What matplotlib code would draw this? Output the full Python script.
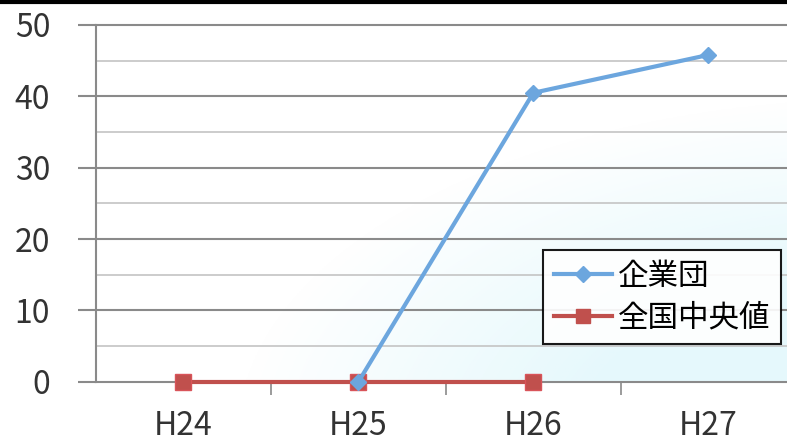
import numpy as np
import matplotlib
matplotlib.use("Agg")
from matplotlib import pyplot as plt
from matplotlib.lines import Line2D

plt.rcParams['font.family'] = ['Noto Sans CJK JP', 'DejaVu Sans']

# data
years = ['H24', 'H25', 'H26', 'H27']
kigyodan_x = [1, 2, 3]
kigyodan = [0, 40.5, 45.8]
zenkoku_x = [0, 1, 2]
zenkoku = [0, 0, 0]

blue = '#6CA6DE'
red = '#C0504D'

fig = plt.figure(figsize=(7.87, 4.43), dpi=100)
ax = fig.add_axes([0.122, 0.138, 0.878, 0.8056])

# light cyan wash in the lower right, like the original background
gx, gy = np.meshgrid(np.linspace(0, 1, 300), np.linspace(0, 1, 200))
d = np.sqrt((gx - 1.15) ** 2 + (gy + 0.15) ** 2)
a = np.clip((0.95 - d) / 0.5, 0, 1) * 0.5
img = np.zeros((200, 300, 4))
img[..., 0] = 0.80
img[..., 1] = 0.95
img[..., 2] = 0.98
img[..., 3] = a
ax.imshow(img, extent=[-0.5, 3.45, 0, 50], origin='lower', aspect='auto', zorder=0)

# grid
for v in np.arange(5, 50, 10):
    ax.axhline(v, color='#c4c4c4', lw=1.2, zorder=1)
for v in np.arange(0, 51, 10):
    ax.axhline(v, color='#8a8a8a', lw=1.5, zorder=1, clip_on=False)

ax.plot(zenkoku_x, zenkoku, color=red, lw=3, marker='s', ms=11,
        mfc=red, mec='#d9545a', zorder=3, clip_on=False)
ax.plot(kigyodan_x, kigyodan, color=blue, lw=3, marker='D', ms=8,
        mfc=blue, mec=blue, zorder=4, clip_on=False)

ax.set_xlim(-0.5, 3.45)
ax.set_ylim(0, 50)
ax.set_xticks(range(len(years)))
ax.set_xticklabels(years)
ax.set_xticks([0.5, 1.5, 2.5], minor=True)
ax.set_yticks(np.arange(0, 51, 10))
ax.tick_params(axis='x', which='major', length=0, pad=20, labelsize=23, labelcolor='#333333')
ax.tick_params(axis='x', which='minor', length=9, width=1.2, color='#8a8a8a', direction='out')
ax.tick_params(axis='y', length=13, width=1.5, color='#8a8a8a', pad=20, labelsize=23, labelcolor='#333333')

for s in ['top', 'right', 'bottom']:
    ax.spines[s].set_visible(False)
ax.spines['left'].set_color('#8a8a8a')
ax.spines['left'].set_linewidth(1.5)
ax.set_facecolor('none')

handles = [Line2D([], [], color=blue, lw=3, marker='D', ms=8),
           Line2D([], [], color=red, lw=3, marker='s', ms=10)]
leg = ax.legend(handles, ['企業団', '全国中央値'], loc='upper left',
                bbox_to_anchor=(0.647, 0.37), fontsize=22, frameon=True,
                fancybox=False, edgecolor='black', framealpha=0.9,
                handlelength=1.9, handletextpad=0.2, borderpad=0.35,
                labelspacing=0.35, borderaxespad=0)
leg.get_frame().set_linewidth(1.5)

# dark border line across the top of the image
fig.add_artist(Line2D([0, 1], [0.996, 0.996], color='black', lw=3, transform=fig.transFigure))

fig.savefig('out.png', dpi=100)
